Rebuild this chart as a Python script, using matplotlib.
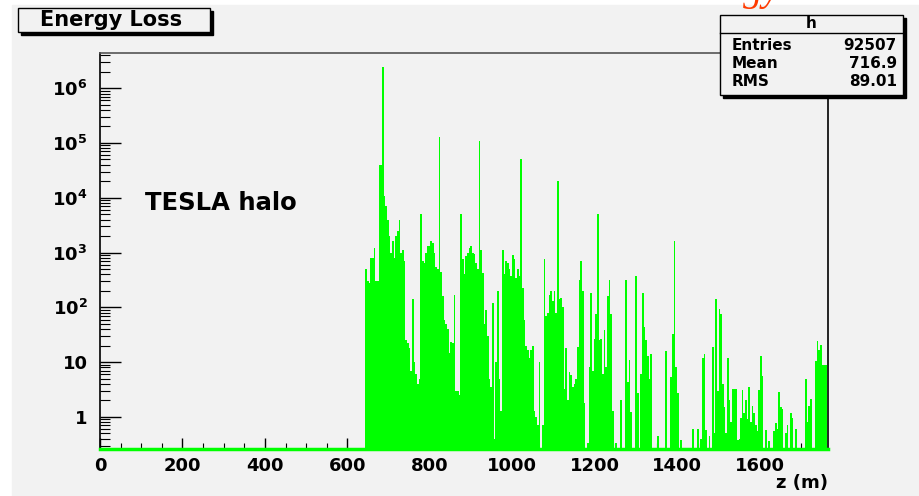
import numpy as np
import matplotlib
matplotlib.use("Agg")
import matplotlib.pyplot as plt
from matplotlib.patches import Rectangle

# energy deposited per 4 m bin along the beam line, first filled bin at z = 644 m
z_first = 644.0
z_last = 1763.0
loss_a = [
    500, 300, 280, 800, 800, 1200, 300, 300, 40000, 40000,
    2.4e6, 1.1e4, 7000, 4000, 2000, 1000, 1600, 800, 2000, 2500,
    4000, 1000, 1100, 700, 25, 22, 18, 7, 140, 10,
    6, 4, 5, 5000, 700, 650, 1000, 1300, 1300, 1600,
    1500, 1000, 550, 500, 1.3e5, 450, 160, 60, 50, 40,
    15, 23, 22, 170, 3, 3, 2.5, 5000, 750, 400,
    850, 1000, 1200, 1300, 1000, 950, 650, 500, 1.1e5, 1100,
    420, 50, 90, 30, 5, 3.5, 120, 0.4, 10, 200,
    5, 1.3, 1100, 400, 700, 650, 500, 380, 900, 750,
    350, 500, 380, 5e4, 230, 60, 20, 17, 12, 17,
    20, 1.3, 1, 0.7, 10, 0, 0.7, 750, 70, 80,
    170, 200, 130, 200, 80, 2e4, 140,
]
loss_b = [
    150, 100, 3.3, 18, 2, 6.6, 5.8, 3.5, 4, 5,
    19, 320, 700, 200, 1.8, 0, 0.33, 8, 180, 7,
    27, 75, 5000, 25, 27, 6, 38, 8, 160, 310,
    75, 1.3, 0, 0.33, 0, 0, 2, 0, 0, 310,
    4.4, 11, 1.25, 0, 0, 380, 2.7, 0, 6.2, 180,
    44, 25, 13, 5, 14, 0, 0, 0, 0.44, 0,
    0, 0, 0, 16, 0, 0, 5.4, 33, 1600, 8,
    2.7, 0, 0.38, 0, 0, 0, 0, 0, 0, 0.6,
    0, 0, 0.6, 0, 0.4, 12, 14, 0.58, 0, 0.44,
    0, 19, 0.5, 140, 3, 95, 75, 4, 1.5, 0.5,
    12, 2, 0.8, 3.3, 3.3, 3.3, 0.38, 0.4, 0.95, 3.1,
    1.2, 2, 0.9, 3.5,
]
loss_c = [
    0.8, 1.6, 1.2, 0.7, 0.55, 3.1, 13, 5.6, 0, 0.58,
    0, 0.36, 0, 0, 0.55, 0.77, 0.6, 2.9, 1.5, 1.4,
    0, 0.5, 0.7, 0, 1.2, 0.95, 0, 0.6, 0, 0,
    0, 0, 0, 5, 0.8, 1.6, 2.1, 0, 0, 10.4,
    24, 17, 21, 8.8, 8.8, 8.8,
]

y_ticks = [1, 10, 1e2, 1e3, 1e4, 1e5, 1e6]
y_tick_labels = ["1", "10", r"$\mathbf{10^{2}}$", r"$\mathbf{10^{3}}$",
                 r"$\mathbf{10^{4}}$", r"$\mathbf{10^{5}}$", r"$\mathbf{10^{6}}$"]
x_ticks = [0, 200, 400, 600, 800, 1000, 1200, 1400, 1600]

stat_names = ["Entries", "Mean", "RMS"]
stat_values = ["92507", "716.9", "89.01"]

W, H = 920, 496
BG = "#f2f2f2"
GREEN = "#00ff00"
y_min, y_max = 0.26, 4.39e6
x_max = 1766

plt.rcParams["font.family"] = ["DejaVu Sans"]
plt.rcParams["font.weight"] = "bold"
plt.rcParams["mathtext.fontset"] = "dejavusans"


def px(x, y):
    # pixel position from the top-left corner -> figure fraction
    return x / W, 1 - y / H


fig = plt.figure(figsize=(W / 100, H / 100), dpi=100, facecolor="white")
fig.add_artist(Rectangle(px(12, H), (W - 12) / W, (H - 5) / H,
                         transform=fig.transFigure, color=BG, zorder=-5))

ax = fig.add_axes([100 / W, 47 / H, 728 / W, 396 / H])
ax.set_facecolor(BG)

loss = np.array(loss_a + loss_b + loss_c, dtype=float)
edges = np.linspace(z_first, z_last, len(loss) + 1)
ax.stairs(np.clip(loss, y_min, None), edges, baseline=y_min, fill=True,
          color=GREEN, lw=0, zorder=2)
ax.plot([0, x_max], [y_min, y_min], color=GREEN, lw=2.5, zorder=3, clip_on=False)

ax.set_yscale("log")
ax.set_xlim(0, x_max)
ax.set_ylim(y_min, y_max)

ax.set_yticks(y_ticks)
ax.set_yticklabels(y_tick_labels)
ax.yaxis.set_minor_locator(matplotlib.ticker.LogLocator(base=10, subs=np.arange(2, 10)))
ax.yaxis.set_minor_formatter(matplotlib.ticker.NullFormatter())
ax.set_xticks(x_ticks)
ax.set_xticklabels([str(t) for t in x_ticks])
ax.xaxis.set_minor_locator(matplotlib.ticker.MultipleLocator(50))

ax.tick_params(axis="y", which="major", direction="in", length=15, width=1,
               labelsize=13, pad=9)
ax.tick_params(axis="y", which="minor", direction="in", length=7, width=0.8)
ax.tick_params(axis="x", which="major", direction="in", length=8, width=1,
               labelsize=13, pad=6)
ax.tick_params(axis="x", which="minor", direction="in", length=4.3, width=0.8)
for lab in ax.get_xticklabels() + ax.get_yticklabels():
    lab.set_fontweight("bold")

for side in ["left", "top", "right", "bottom"]:
    ax.spines[side].set_linewidth(1.2)
ax.spines["top"].set_color("#555555")

ax.text(45 / 728, (449 - 203) / 396, "TESLA halo", transform=ax.transAxes,
        fontsize=17.5, fontweight="bold", va="center", ha="left")

fig.text(*px(828, 483), "z (m)", ha="right", va="center", fontsize=13,
         fontweight="bold")

# title box with its drop shadow
fig.add_artist(Rectangle(px(21, 35), 192 / W, 24 / H, transform=fig.transFigure,
                         color="black", zorder=5))
fig.add_artist(Rectangle(px(18, 32), 192 / W, 24 / H, transform=fig.transFigure,
                         facecolor=BG, edgecolor="black", lw=1, zorder=6))
fig.text(*px(111, 20), "Energy Loss", ha="center", va="center", fontsize=15,
         fontweight="bold", zorder=7)

# statistics box
fig.add_artist(Rectangle(px(723, 98), 183 / W, 80 / H, transform=fig.transFigure,
                         color="black", zorder=5))
fig.add_artist(Rectangle(px(720, 95), 183 / W, 80 / H, transform=fig.transFigure,
                         facecolor=BG, edgecolor="black", lw=1, zorder=6))
fig.add_artist(matplotlib.lines.Line2D([720 / W, 903 / W], [1 - 33 / H, 1 - 33 / H],
                                       transform=fig.transFigure, color="black",
                                       lw=1, zorder=7))
fig.text(*px(811, 24), "h", ha="center", va="center", fontsize=11,
         fontweight="bold", zorder=7)
for i, (name, val) in enumerate(zip(stat_names, stat_values)):
    yy = 45 + 18.5 * i
    fig.text(*px(732, yy), name, ha="left", va="center", fontsize=11,
             fontweight="bold", zorder=7)
    fig.text(*px(897, yy), val, ha="right", va="center", fontsize=11,
             fontweight="bold", zorder=7)

# slide heading running off the top edge
fig.text(*px(780, 0), "Energy", ha="right", va="baseline", fontsize=28,
         family="Liberation Serif", style="italic", fontweight="normal",
         color="#ff3a00", zorder=8)

fig.savefig("out.png", dpi=100, facecolor=fig.get_facecolor())
